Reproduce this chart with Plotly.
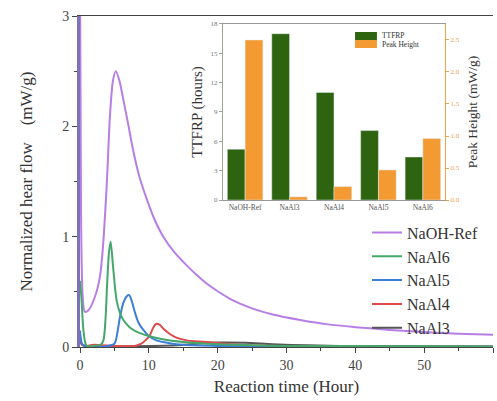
import plotly.graph_objects as go

# ---------------- data ----------------
ref_x = [0, 0.15, 0.4, 0.7, 1.2, 2.2, 2.9, 3.3, 3.9, 4.35, 4.8, 5.2, 5.7, 6.3, 7.0, 7.7, 8.6, 9.7, 10.8, 12.1, 13.7, 15.5, 17.0, 18.4, 20, 22, 25, 28, 32, 36, 40, 45, 50, 55, 60]
ref_y = [3.4, 1.2, 0.45, 0.32, 0.33, 0.46, 0.64, 0.88, 1.49, 2.09, 2.42, 2.5, 2.42, 2.24, 2.02, 1.79, 1.55, 1.34, 1.16, 1.0, 0.86, 0.74, 0.65, 0.575, 0.505, 0.43, 0.35, 0.295, 0.245, 0.205, 0.18, 0.155, 0.135, 0.12, 0.11]

al6_x = [0, 0.2, 0.5, 0.8, 1.0, 2.0, 3.0, 3.4, 3.7, 3.95, 4.2, 4.45, 4.8, 5.3, 5.8, 6.3, 7.2, 8.2, 10, 12, 15, 20, 25, 30, 40, 50, 60]
al6_y = [0.6, 0.45, 0.15, 0.03, 0.01, 0.01, 0.02, 0.06, 0.25, 0.58, 0.85, 0.955, 0.73, 0.43, 0.31, 0.245, 0.18, 0.14, 0.10, 0.07, 0.045, 0.025, 0.015, 0.01, 0.008, 0.006, 0.005]

al5_x = [0, 0.3, 1, 3, 5.0, 5.4, 5.8, 6.3, 6.8, 7.15, 7.5, 8.0, 8.5, 9.2, 10, 11.1, 13, 15, 20, 30, 60]
al5_y = [0.15, 0.03, 0.0, 0.0, 0.03, 0.12, 0.27, 0.40, 0.46, 0.47, 0.42, 0.31, 0.22, 0.155, 0.10, 0.06, 0.035, 0.02, 0.01, 0.005, 0.003]

al4_x = [0, 0.3, 1, 2, 3, 5, 8, 8.9, 9.5, 10.1, 10.6, 11.1, 11.6, 12.2, 13.0, 14, 15.5, 17.4, 20.3, 23, 27, 35, 60]
al4_y = [0.1, 0.02, 0.01, 0.02, 0.015, 0.01, 0.01, 0.03, 0.06, 0.10, 0.17, 0.21, 0.20, 0.16, 0.12, 0.085, 0.06, 0.05, 0.035, 0.02, 0.012, 0.006, 0.003]

al3_x = [0, 0.3, 1, 5, 10, 14, 17, 20, 24, 28, 33, 40, 60]
al3_y = [0.08, 0.02, 0.005, 0.005, 0.008, 0.015, 0.03, 0.04, 0.038, 0.025, 0.015, 0.008, 0.004]

samples = ["NaOH-Ref", "NaAl3", "NaAl4", "NaAl5", "NaAl6"]
ttfrp = [5.2, 17.0, 11.0, 7.1, 4.4]
peak_height = [2.5, 0.05, 0.21, 0.47, 0.96]

bar_series = ["TTFRP", "Peak Height"]
bar_colors = ["#2e6410", "#f39a32"]

FONT = "Times New Roman, Liberation Serif, DejaVu Serif, serif"

fig = go.Figure()

curves = [
    ("NaOH-Ref", ref_x, ref_y, "#b77fe6", 1),
    ("NaAl3", al3_x, al3_y, "#555555", 5),
    ("NaAl4", al4_x, al4_y, "#e04a4a", 4),
    ("NaAl5", al5_x, al5_y, "#3c7fd8", 3),
    ("NaAl6", al6_x, al6_y, "#45a86a", 2),
]
for name, xs, ys, col, rank in curves:
    fig.add_trace(go.Scatter(
        x=xs, y=ys, name=name, mode="lines",
        line=dict(color=col, width=2, shape="spline", smoothing=0.8),
        legendrank=rank,
        xaxis="x", yaxis="y",
    ))

# inset bars
fig.add_trace(go.Bar(
    x=samples, y=ttfrp, name=bar_series[0], marker_color=bar_colors[0],
    width=0.4, offset=-0.4, xaxis="x2", yaxis="y3", showlegend=False,
))
fig.add_trace(go.Bar(
    x=samples, y=peak_height, name=bar_series[1], marker_color=bar_colors[1],
    width=0.4, offset=0.0, xaxis="x2", yaxis="y4", showlegend=False,
))

# compact inset legend (drawn as key boxes + labels)
key_x0, key_x1, key_txt = 0.666, 0.719, 0.726
key_rows = [(0.9517, 0.9275), (0.9275, 0.9033)]
for (y1, y0), name, col in zip(key_rows, bar_series, bar_colors):
    fig.add_shape(type="rect", xref="paper", yref="paper",
                  x0=key_x0, x1=key_x1, y0=y0, y1=y1,
                  fillcolor=col, line=dict(width=0))
    fig.add_annotation(xref="paper", yref="paper", x=key_txt, y=(y0 + y1) / 2,
                       text=name, showarrow=False, xanchor="left", yanchor="middle",
                       font=dict(size=7.5, family=FONT, color="#333333"))

fig.update_layout(
    width=497, height=401,
    margin=dict(l=80, r=4, t=16, b=54),
    paper_bgcolor="white", plot_bgcolor="white",
    font=dict(family=FONT, color="#333333"),
    showlegend=True,
    xaxis=dict(
        domain=[0, 1], range=[0, 60], dtick=10, tick0=0,
        showline=True, linecolor="#444444", linewidth=1, mirror=True,
        ticks="outside", ticklen=5, tickcolor="#444444",
        minor=dict(dtick=5, ticks="outside", ticklen=3, tickcolor="#444444"),
        showgrid=False, zeroline=False,
        tickfont=dict(size=14, family=FONT, color="#444444"),
        title=dict(text="Reaction time (Hour)", font=dict(size=17, family=FONT, color="#333333"), standoff=8),
    ),
    yaxis=dict(
        domain=[0, 1], range=[0, 3], dtick=1, tick0=0,
        showline=True, linecolor="#7b72b8", linewidth=3, mirror=False,
        ticks="outside", ticklen=5, tickcolor="#444444",
        minor=dict(dtick=0.5, ticks="outside", ticklen=3, tickcolor="#444444"),
        showgrid=False, zeroline=False,
        tickfont=dict(size=14, family=FONT, color="#444444"),
        title=dict(text="Normalized hear flow\u3000(mW/g)", font=dict(size=17, family=FONT, color="#333333"), standoff=26),
    ),
    xaxis2=dict(
        domain=[0.346, 0.884], anchor="y3", type="category",
        range=[-0.5, 4.5],
        showline=True, linecolor="#999999", linewidth=1, mirror=True,
        ticks="", showgrid=False, zeroline=False,
        tickfont=dict(size=7.5, family=FONT, color="#555555"),
    ),
    yaxis3=dict(
        domain=[0.444, 0.976], anchor="x2", range=[0, 18], dtick=3,
        showline=True, linecolor="#9aa890", linewidth=1,
        ticks="outside", ticklen=3, tickcolor="#9aa890",
        showgrid=False, zeroline=False,
        tickfont=dict(size=7, family=FONT, color="#777777"),
        title=dict(text="TTFRP (hours)", font=dict(size=15, family=FONT, color="#333333"), standoff=4),
    ),
    yaxis4=dict(
        overlaying="y3", anchor="x2", side="right", range=[0, 2.75], dtick=0.5,
        tickformat=".1f",
        showline=True, linecolor="#f3a24a", linewidth=1,
        ticks="outside", ticklen=3, tickcolor="#f3a24a",
        showgrid=False, zeroline=False,
        tickfont=dict(size=7, family=FONT, color="#f0a050"),
        title=dict(text="Peak Height (mW/g)", font=dict(size=13.5, family=FONT, color="#333333"), standoff=8),
    ),
    legend=dict(
        x=0.695, y=0.397, xanchor="left", yanchor="top",
        bgcolor="rgba(0,0,0,0)", borderwidth=0,
        font=dict(size=16, family=FONT, color="#333333"),
        tracegroupgap=0, itemwidth=30,
    ),
)

fig.write_html("out.html")
